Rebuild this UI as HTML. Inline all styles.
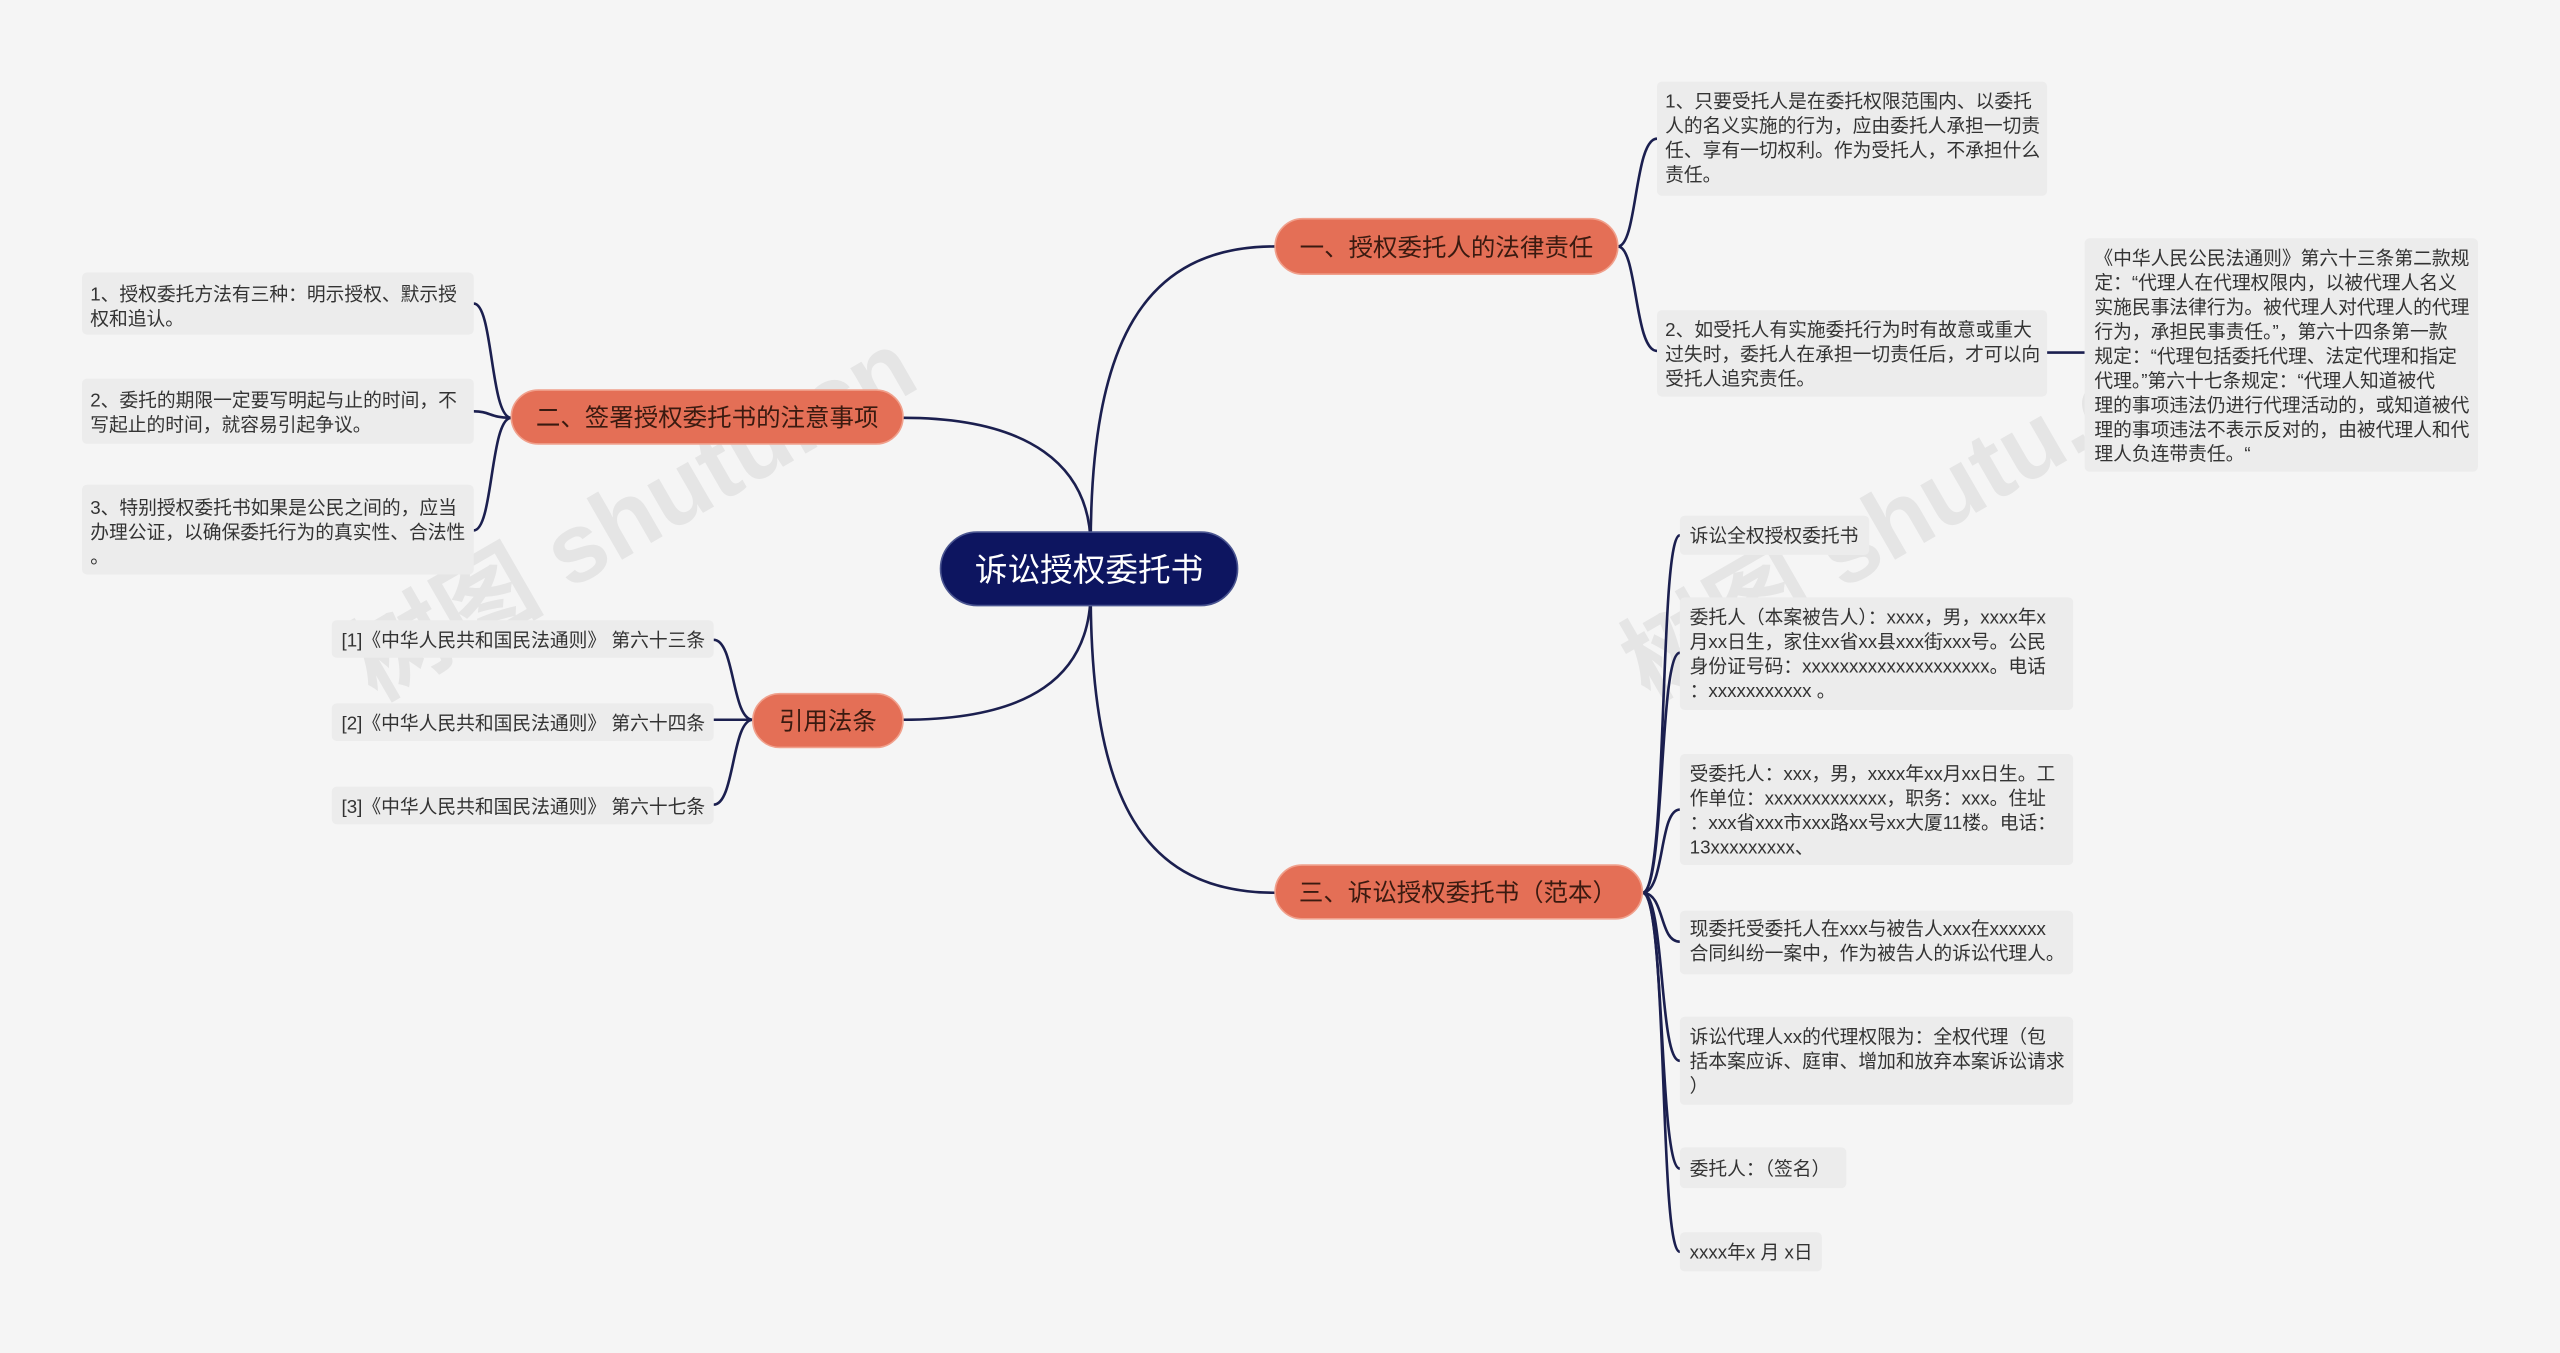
<!DOCTYPE html>
<html><head><meta charset="utf-8"><style>
html,body{margin:0;padding:0;background:#f5f5f5;width:2560px;height:1353px;overflow:hidden;}
svg{display:block;overflow:hidden;}
text{font-family:"Liberation Sans","Noto Sans CJK SC",sans-serif;}
.l{font-size:11.5px;fill:#333;}
.b{font-size:15px;fill:#3a1a10;}
.c{fill:none;stroke:#1b1f4f;stroke-width:1.6;}
.lf{fill:#ececec;}
.br{fill:#e46f56;stroke:#f0a08c;stroke-width:1;}
.w{font-size:60px;fill:#d8d8d8;opacity:.55;font-weight:bold;}
</style></head><body>
<svg width="2560" height="1353" viewBox="0 0 1568 829" xmlns="http://www.w3.org/2000/svg">
<rect width="1568" height="829" fill="#f5f5f5"/>
<text class="w" transform="translate(230,430) rotate(-30)">树图 shutu.cn</text>
<text class="w" transform="translate(1010,430) rotate(-30)">树图 shutu.cn</text>

<path class="c" d="M668,335 C668,210 700,151 781,151"/>
<path class="c" d="M668,362 C668,490 700,547 781,547"/>
<path class="c" d="M668,335 C668,285 630,256 553,256"/>
<path class="c" d="M668,362 C668,415 630,441 553,441"/>

<path class="c" d="M991,151 C1003,151 1001,85 1015,85"/>
<path class="c" d="M991,151 C1003,151 1001,215 1015,215"/>
<path class="c" d="M1254,216 H1277"/>
<path class="c" d="M313,256 C300,256 302,186 290,186"/>
<path class="c" d="M313,256 C300,256 300,252 290,252"/>
<path class="c" d="M313,256 C300,256 302,325 290,325"/>
<path class="c" d="M461,441 C448,441 450,392 437,392"/>
<path class="c" d="M461,441 H437"/>
<path class="c" d="M461,441 C448,441 450,493 437,493"/>
<path class="c" d="M1006,547 C1022,547 1016,328 1029,328"/>
<path class="c" d="M1006,547 C1020,547 1016,400 1029,400"/>
<path class="c" d="M1006,547 C1020,547 1016,496 1029,496"/>
<path class="c" d="M1006,547 C1020,547 1016,577 1029,577"/>
<path class="c" d="M1006,547 C1020,547 1016,650 1029,650"/>
<path class="c" d="M1006,547 C1020,547 1016,716 1029,716"/>
<path class="c" d="M1006,547 C1022,547 1016,767 1029,767"/>

<rect x="576" y="326" width="182" height="45" rx="22.5" fill="#0d1560" stroke="#4a5590" stroke-width="1"/>
<text x="667" y="356" text-anchor="middle" style="font-size:20px;fill:#fff">诉讼授权委托书</text>

<rect class="br" x="781" y="134" width="210" height="34" rx="17"/>
<text class="b" x="886" y="157" text-anchor="middle">一、授权委托人的法律责任</text>
<rect class="br" x="313" y="239" width="240" height="33" rx="16.5"/>
<text class="b" x="433" y="261" text-anchor="middle">二、签署授权委托书的注意事项</text>
<rect class="br" x="461" y="425" width="92" height="33" rx="16.5"/>
<text class="b" x="507" y="447" text-anchor="middle">引用法条</text>
<rect class="br" x="781" y="530" width="225" height="33" rx="16.5"/>
<text class="b" x="893" y="552" text-anchor="middle">三、诉讼授权委托书（范本）</text>

<rect class="lf" x="1015" y="50" width="239" height="70" rx="3"/>
<text class="l"><tspan x="1020" y="66">1、只要受托人是在委托权限范围内、以委托</tspan><tspan x="1020" y="81">人的名义实施的行为，应由委托人承担一切责</tspan><tspan x="1020" y="96">任、享有一切权利。作为受托人，不承担什么</tspan><tspan x="1020" y="111">责任。</tspan></text>
<rect class="lf" x="1015" y="190" width="239" height="53" rx="3"/>
<text class="l"><tspan x="1020" y="206">2、如受托人有实施委托行为时有故意或重大</tspan><tspan x="1020" y="221">过失时，委托人在承担一切责任后，才可以向</tspan><tspan x="1020" y="236">受托人追究责任。</tspan></text>
<rect class="lf" x="1277" y="146" width="241" height="143" rx="3"/>
<text class="l"><tspan x="1283" y="162">《中华人民公民法通则》第六十三条第二款规</tspan><tspan x="1283" y="177">定：“代理人在代理权限内，以被代理人名义</tspan><tspan x="1283" y="192">实施民事法律行为。被代理人对代理人的代理</tspan><tspan x="1283" y="207">行为，承担民事责任。”，第六十四条第一款</tspan><tspan x="1283" y="222">规定：“代理包括委托代理、法定代理和指定</tspan><tspan x="1283" y="237">代理。”第六十七条规定：“代理人知道被代</tspan><tspan x="1283" y="252">理的事项违法仍进行代理活动的，或知道被代</tspan><tspan x="1283" y="267">理的事项违法不表示反对的，由被代理人和代</tspan><tspan x="1283" y="282">理人负连带责任。“</tspan></text>

<rect class="lf" x="50" y="167" width="240" height="38" rx="3"/>
<text class="l"><tspan x="55" y="184">1、授权委托方法有三种：明示授权、默示授</tspan><tspan x="55" y="199">权和追认。</tspan></text>
<rect class="lf" x="50" y="232" width="240" height="40" rx="3"/>
<text class="l"><tspan x="55" y="249">2、委托的期限一定要写明起与止的时间，不</tspan><tspan x="55" y="264">写起止的时间，就容易引起争议。</tspan></text>
<rect class="lf" x="50" y="297" width="240" height="55" rx="3"/>
<text class="l"><tspan x="55" y="315">3、特别授权委托书如果是公民之间的，应当</tspan><tspan x="55" y="330">办理公证，以确保委托行为的真实性、合法性</tspan><tspan x="55" y="345">。</tspan></text>

<rect class="lf" x="203" y="380" width="234" height="23" rx="3"/>
<text class="l" x="209" y="396">[1]《中华人民共和国民法通则》 第六十三条</text>
<rect class="lf" x="203" y="431" width="234" height="23" rx="3"/>
<text class="l" x="209" y="447">[2]《中华人民共和国民法通则》 第六十四条</text>
<rect class="lf" x="203" y="482" width="234" height="23" rx="3"/>
<text class="l" x="209" y="498">[3]《中华人民共和国民法通则》 第六十七条</text>

<rect class="lf" x="1029" y="316" width="116" height="24" rx="3"/>
<text class="l" x="1035" y="332">诉讼全权授权委托书</text>
<rect class="lf" x="1029" y="366" width="241" height="69" rx="3"/>
<text class="l"><tspan x="1035" y="382">委托人（本案被告人）：xxxx，男，xxxx年x</tspan><tspan x="1035" y="397">月xx日生，家住xx省xx县xxx街xxx号。公民</tspan><tspan x="1035" y="412">身份证号码：xxxxxxxxxxxxxxxxxxxx。电话</tspan><tspan x="1035" y="427">：xxxxxxxxxxx 。</tspan></text>
<rect class="lf" x="1029" y="462" width="241" height="68" rx="3"/>
<text class="l"><tspan x="1035" y="478">受委托人：xxx，男，xxxx年xx月xx日生。工</tspan><tspan x="1035" y="493">作单位：xxxxxxxxxxxxx，职务：xxx。住址</tspan><tspan x="1035" y="508">：xxx省xxx市xxx路xx号xx大厦11楼。电话：</tspan><tspan x="1035" y="523">13xxxxxxxxx、</tspan></text>
<rect class="lf" x="1029" y="558" width="241" height="39" rx="3"/>
<text class="l"><tspan x="1035" y="573">现委托受委托人在xxx与被告人xxx在xxxxxx</tspan><tspan x="1035" y="588">合同纠纷一案中，作为被告人的诉讼代理人。</tspan></text>
<rect class="lf" x="1029" y="623" width="241" height="54" rx="3"/>
<text class="l"><tspan x="1035" y="639">诉讼代理人xx的代理权限为：全权代理（包</tspan><tspan x="1035" y="654">括本案应诉、庭审、增加和放弃本案诉讼请求</tspan><tspan x="1035" y="669">）</tspan></text>
<rect class="lf" x="1029" y="703" width="102" height="25" rx="3"/>
<text class="l" x="1035" y="720">委托人：（签名）</text>
<rect class="lf" x="1029" y="755" width="87" height="24" rx="3"/>
<text class="l" x="1035" y="771">xxxx年x 月 x日</text>
</svg>
</body></html>
